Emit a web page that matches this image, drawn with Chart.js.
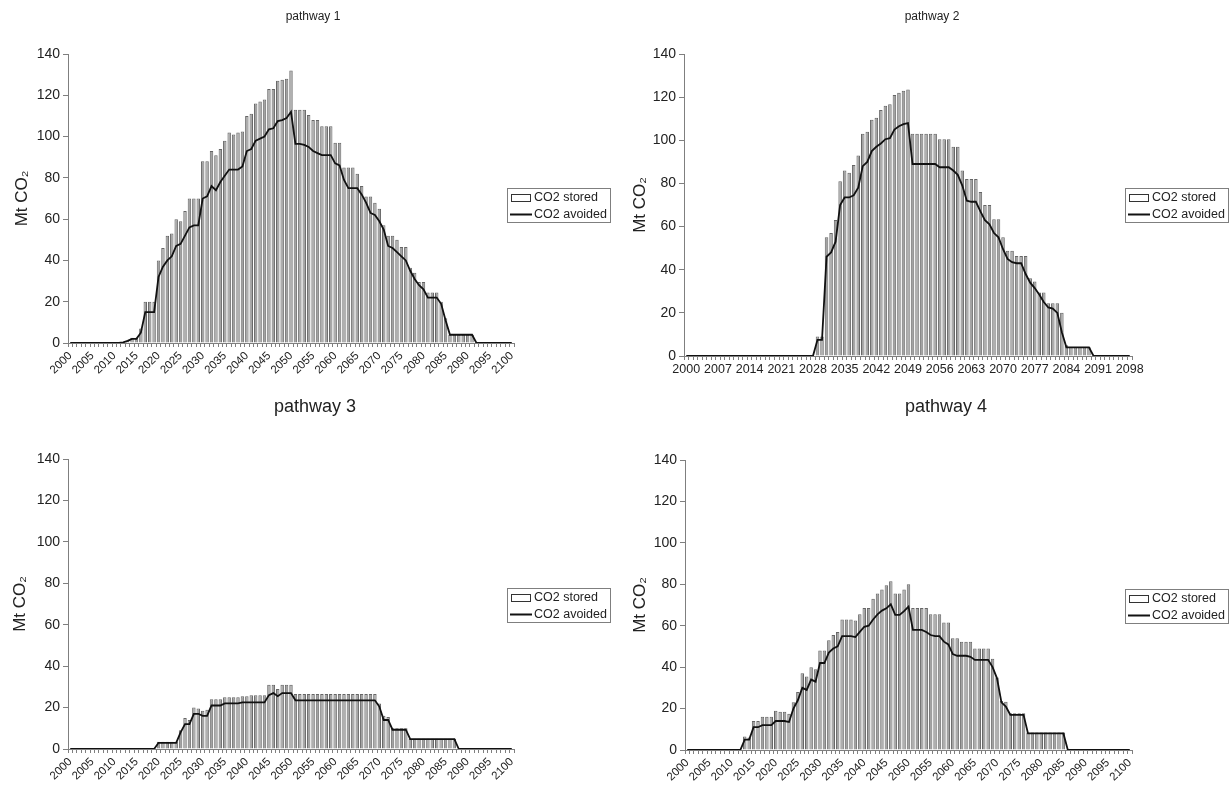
<!DOCTYPE html>
<html>
<head>
<meta charset="utf-8">
<title>CO2 stored / avoided pathways</title>
<script src="https://cdn.jsdelivr.net/npm/chart.js@4.4.1/dist/chart.umd.min.js"></script>
<style>
  html, body { margin: 0; padding: 0; background: #fff; }
  #wrap { position: relative; width: 1229px; height: 787px; overflow: hidden; }
  #wrap canvas { position: absolute; }
</style>
</head>
<body>
<div id="wrap">
  <canvas id="p1" width="620" height="390" style="left:0;top:0"></canvas>
  <canvas id="p2" width="609" height="390" style="left:620px;top:0"></canvas>
  <canvas id="p3" width="620" height="397" style="left:0;top:390px"></canvas>
  <canvas id="p4" width="609" height="397" style="left:620px;top:390px"></canvas>
</div>
<script>
/* DATA */
const years = [
  2000, 2001, 2002, 2003, 2004, 2005, 2006, 2007, 2008, 2009,
  2010, 2011, 2012, 2013, 2014, 2015, 2016, 2017, 2018, 2019,
  2020, 2021, 2022, 2023, 2024, 2025, 2026, 2027, 2028, 2029,
  2030, 2031, 2032, 2033, 2034, 2035, 2036, 2037, 2038, 2039,
  2040, 2041, 2042, 2043, 2044, 2045, 2046, 2047, 2048, 2049,
  2050, 2051, 2052, 2053, 2054, 2055, 2056, 2057, 2058, 2059,
  2060, 2061, 2062, 2063, 2064, 2065, 2066, 2067, 2068, 2069,
  2070, 2071, 2072, 2073, 2074, 2075, 2076, 2077, 2078, 2079,
  2080, 2081, 2082, 2083, 2084, 2085, 2086, 2087, 2088, 2089,
  2090, 2091, 2092, 2093, 2094, 2095, 2096, 2097, 2098, 2099,
  2100
];
// pathway 2 only runs to 2098
const years2 = years.slice(0, 99);

const tickYears5 = [2000, 2005, 2010, 2015, 2020, 2025, 2030, 2035, 2040, 2045, 2050,
  2055, 2060, 2065, 2070, 2075, 2080, 2085, 2090, 2095, 2100];
const tickYears7 = [2000, 2007, 2014, 2021, 2028, 2035, 2042, 2049, 2056, 2063, 2070,
  2077, 2084, 2091, 2098];

const p1Stored = [
  0, 0, 0, 0, 0, 0, 0, 0, 0, 0,
  0, 0, 0.5, 1, 2.5, 2.5, 7, 20, 20, 20,
  40, 46, 52, 53, 60, 59, 64, 70, 70, 70,
  88, 88, 93, 91, 94, 98, 102, 101, 102, 102.5,
  110, 111, 116, 117, 118, 123, 123, 127, 127.5, 128,
  132, 113, 113, 113, 110.5, 108, 108, 105, 105, 105,
  97, 97, 85, 85, 85, 82, 76, 71, 71, 68,
  65, 57, 52, 52, 50, 46.5, 46.5, 36.5, 34, 29.5,
  29.5, 24.5, 24.5, 24.5, 20, 12, 4, 4, 4, 4,
  4, 4, 0, 0, 0, 0, 0, 0, 0, 0,
  0
];
const p1Avoided = [
  0, 0, 0, 0, 0, 0, 0, 0, 0, 0,
  0, 0, 0.3, 1, 2, 2, 5, 15, 15, 15,
  32, 37, 40, 42, 47, 48, 52, 56, 57, 57,
  70, 71, 76, 74, 78, 81, 84, 84, 84, 85.5,
  93, 94, 98, 99, 100, 103.5, 104, 107.5, 108, 109,
  112, 96.5, 96.5, 96, 95, 93, 92, 91, 91, 91,
  87, 86, 79, 75, 75, 75, 72, 68, 63, 62,
  59, 55, 47, 46, 44, 42, 40, 35, 31, 28,
  26, 22, 22, 22, 19, 11, 4, 4, 4, 4,
  4, 4, 0, 0, 0, 0, 0, 0, 0, 0,
  0
];

const p2Stored = [
  0, 0, 0, 0, 0, 0, 0, 0, 0, 0,
  0, 0, 0, 0, 0, 0, 0, 0, 0, 0,
  0, 0, 0, 0, 0, 0, 0, 0, 0, 9,
  9, 55, 57, 63, 81, 86, 85, 88.5, 93, 103,
  104, 109.5, 110.5, 114, 116, 116.7, 121, 122, 123, 123.6,
  103, 103, 103, 103, 103, 103, 100.5, 100.5, 100.5, 97,
  97, 86, 82, 82, 82, 76, 70, 70, 63.4, 63.4,
  55, 48.8, 48.8, 46.4, 46.4, 46.4, 36, 34.5, 29.4, 29.4,
  24.4, 24.4, 24.4, 20, 5, 4, 4, 4, 4, 4,
  0, 0, 0, 0, 0, 0, 0, 0, 0
];
const p2Avoided = [
  0, 0, 0, 0, 0, 0, 0, 0, 0, 0,
  0, 0, 0, 0, 0, 0, 0, 0, 0, 0,
  0, 0, 0, 0, 0, 0, 0, 0, 0, 7.5,
  7.5, 46, 48, 53, 70, 73.5, 73.5, 74.5, 78, 88,
  90, 95, 97, 98.5, 100.5, 101, 105, 106.5, 107.5, 108,
  89, 89, 89, 89, 89, 89, 87.5, 87.5, 87.5, 86,
  84, 79, 72, 71.5, 71.5, 67, 63, 61, 57, 55,
  49.5, 45, 43.5, 43, 43, 38, 34, 31.5, 28.5, 25,
  22.5, 22, 20, 11, 4, 4, 4, 4, 4, 4,
  0, 0, 0, 0, 0, 0, 0, 0, 0
];

const p3Stored = [
  0, 0, 0, 0, 0, 0, 0, 0, 0, 0,
  0, 0, 0, 0, 0, 0, 0, 0, 0, 0,
  3.5, 3.5, 3.5, 3.5, 3.5, 9, 15, 14, 20, 19.5,
  18.5, 19, 24, 24, 24, 25, 25, 25, 25, 25.5,
  25.5, 26, 26, 26, 26, 31, 31, 29, 31, 31,
  31, 26.5, 26.5, 26.5, 26.5, 26.5, 26.5, 26.5, 26.5, 26.5,
  26.5, 26.5, 26.5, 26.5, 26.5, 26.5, 26.5, 26.5, 26.5, 26.5,
  22, 16, 15.5, 10, 10, 10, 10, 5, 5, 5,
  5, 5, 5, 5, 5, 5, 5, 5, 0, 0,
  0, 0, 0, 0, 0, 0, 0, 0, 0, 0,
  0
];
const p3Avoided = [
  0, 0, 0, 0, 0, 0, 0, 0, 0, 0,
  0, 0, 0, 0, 0, 0, 0, 0, 0, 0,
  3, 3, 3, 3, 3, 8, 12, 12, 17, 17,
  16, 16, 21, 21, 21, 22, 22, 22, 22, 22.5,
  22.5, 22.5, 22.5, 22.5, 22.5, 26, 27, 25.5, 27, 27,
  27, 23.5, 23.5, 23.5, 23.5, 23.5, 23.5, 23.5, 23.5, 23.5,
  23.5, 23.5, 23.5, 23.5, 23.5, 23.5, 23.5, 23.5, 23.5, 23.5,
  20.5, 14, 14, 9.3, 9.3, 9.3, 9.3, 4.8, 4.8, 4.8,
  4.8, 4.8, 4.8, 4.8, 4.8, 4.8, 4.8, 4.8, 0, 0,
  0, 0, 0, 0, 0, 0, 0, 0, 0, 0,
  0
];

const p4Stored = [
  0, 0, 0, 0, 0, 0, 0, 0, 0, 0,
  0, 0, 0, 6.5, 6, 14, 14, 16, 16, 16,
  19, 18.5, 18.5, 17.5, 23, 28, 37, 35.5, 40, 39,
  48, 48, 53, 55.5, 57, 63, 63, 63, 62.5, 65.5,
  68.5, 68.5, 73, 75.5, 77.5, 79.5, 81.5, 75.5, 75.5, 77.5,
  80, 68.5, 68.5, 68.5, 68.5, 65.5, 65.5, 65.5, 61.5, 61.5,
  54, 54, 52.3, 52.3, 52.3, 49, 49, 49, 49, 44,
  35, 23.7, 23.3, 17.7, 17.7, 17.7, 17.7, 8.4, 8.4, 8.4,
  8.4, 8.4, 8.4, 8.4, 8.4, 8.4, 0, 0, 0, 0,
  0, 0, 0, 0, 0, 0, 0, 0, 0, 0,
  0
];
const p4Avoided = [
  0, 0, 0, 0, 0, 0, 0, 0, 0, 0,
  0, 0, 0, 5, 5, 11, 11, 12, 12, 12,
  14, 14, 14, 13.5, 20, 24, 30, 29, 34, 33,
  42, 42, 47, 49, 50, 55, 55, 55, 54.5, 57,
  59.5, 60, 63, 65.5, 67.3, 68.4, 70.3, 65.2, 65.2, 67,
  69.2, 58, 58, 58, 57, 55.5, 55, 55, 52.3, 51,
  46.3, 45.5, 45.5, 45.5, 45, 43.5, 43.5, 43.5, 43.5, 40,
  34.6, 23, 21, 17, 17, 17, 17, 8, 8, 8,
  8, 8, 8, 8, 8, 8, 0, 0, 0, 0,
  0, 0, 0, 0, 0, 0, 0, 0, 0, 0,
  0
];

/* STYLE */
const FONT = '"Liberation Sans", Arial, sans-serif';
Chart.defaults.font.family = FONT;
Chart.defaults.color = '#222';
const AXIS_GREY = '#7f7f7f';

// title + boxed legend, drawn at fixed spots like the original figure
const panelDecor = {
  id: 'panelDecor',
  afterDraw(chart, args, opts) {
    const ctx = chart.ctx;
    ctx.save();
    ctx.fillStyle = '#222';
    ctx.textAlign = 'center';
    ctx.textBaseline = 'middle';
    ctx.font = opts.titleSize + 'px ' + FONT;
    ctx.fillText(opts.title, opts.titleX, opts.titleY);

    const lx = opts.legendX, ly = opts.legendY;
    ctx.fillStyle = '#fff';
    ctx.fillRect(lx, ly, 104, 35);
    ctx.strokeStyle = AXIS_GREY;
    ctx.lineWidth = 1;
    ctx.strokeRect(lx + 0.5, ly + 0.5, 103, 34);

    const sets = chart.data.datasets;
    const bar = sets.find(d => d.type !== 'line');
    const line = sets.find(d => d.type === 'line');
    const r1 = ly + 9.5, r2 = ly + 26.5;

    ctx.fillStyle = '#fff';
    ctx.fillRect(lx + 4, r1 - 3.5, 20, 7);
    ctx.strokeStyle = '#333';
    ctx.strokeRect(lx + 4.5, r1 - 3, 19, 7);

    ctx.strokeStyle = '#111';
    ctx.lineWidth = 2;
    ctx.beginPath();
    ctx.moveTo(lx + 3, r2);
    ctx.lineTo(lx + 25, r2);
    ctx.stroke();

    ctx.fillStyle = '#222';
    ctx.textAlign = 'left';
    ctx.font = '12.5px ' + FONT;
    ctx.fillText(bar.label, lx + 27, r1);
    ctx.fillText(line.label, lx + 27, r2);
    ctx.restore();
  }
};

function makePanel(id, p) {
  const showTicks = p.tickYears;
  return new Chart(document.getElementById(id), {
    type: 'bar',
    data: {
      labels: p.labels,
      datasets: [
        {
          type: 'line',
          label: 'CO2 avoided',
          data: p.avoided,
          borderColor: '#111',
          borderWidth: 1.8,
          pointRadius: 0,
          tension: 0,
          order: 0
        },
        {
          label: 'CO2 stored',
          data: p.stored,
          backgroundColor: '#a3a3a3',
          borderColor: '#666',
          borderWidth: 1,
          barPercentage: 0.78,
          categoryPercentage: 1,
          order: 1
        }
      ]
    },
    options: {
      responsive: false,
      animation: false,
      layout: { padding: { left: 0, right: p.padRight, top: p.padTop, bottom: 0 } },
      plugins: {
        legend: { display: false },
        tooltip: { enabled: false },
        panelDecor: p.decor
      },
      scales: {
        x: {
          afterFit: s => { s.height = p.xHeight; },
          grid: { drawOnChartArea: false, drawTicks: true, tickLength: 4, color: AXIS_GREY },
          border: { color: AXIS_GREY },
          ticks: {
            autoSkip: false,
            minRotation: p.rotation,
            maxRotation: p.rotation,
            padding: 2,
            font: { size: p.xFont },
            callback: function (value) {
              const lab = this.getLabelForValue(value);
              return showTicks.includes(lab) ? String(lab) : '';
            }
          }
        },
        y: {
          min: 0,
          max: 140,
          afterFit: s => { s.width = p.yWidth; },
          grid: { drawOnChartArea: false, drawTicks: true, tickLength: 5, color: AXIS_GREY },
          border: { color: AXIS_GREY },
          ticks: { stepSize: 20, padding: 3, font: { size: 14 } },
          title: {
            display: true,
            text: 'Mt CO\u2082',
            font: { size: 17 },
            padding: { top: p.yTitlePad, bottom: 0 }
          }
        }
      }
    },
    plugins: [panelDecor]
  });
}

/* PANELS */
makePanel('p1', {
  labels: years, stored: p1Stored, avoided: p1Avoided, tickYears: tickYears5,
  rotation: 45, xFont: 11.5, padRight: 106, padTop: 54, xHeight: 47, yWidth: 68, yTitlePad: 12,
  decor: { title: 'pathway 1', titleSize: 12, titleX: 313, titleY: 17, legendX: 507, legendY: 188 }
});

makePanel('p2', {
  labels: years2, stored: p2Stored, avoided: p2Avoided, tickYears: tickYears7,
  rotation: 0, xFont: 12.5, padRight: 97, padTop: 54, xHeight: 34, yWidth: 64, yTitlePad: 10,
  decor: { title: 'pathway 2', titleSize: 12, titleX: 312, titleY: 17, legendX: 505, legendY: 188 }
});

makePanel('p3', {
  labels: years, stored: p3Stored, avoided: p3Avoided, tickYears: tickYears5,
  rotation: 45, xFont: 11.5, padRight: 106, padTop: 69, xHeight: 38, yWidth: 68, yTitlePad: 10,
  decor: { title: 'pathway 3', titleSize: 18, titleX: 315, titleY: 17, legendX: 507, legendY: 198 }
});

makePanel('p4', {
  labels: years, stored: p4Stored, avoided: p4Avoided, tickYears: tickYears5,
  rotation: 45, xFont: 11.5, padRight: 97, padTop: 70, xHeight: 37, yWidth: 65, yTitlePad: 10,
  decor: { title: 'pathway 4', titleSize: 18, titleX: 326, titleY: 17, legendX: 505, legendY: 199 }
});
</script>
</body>
</html>
